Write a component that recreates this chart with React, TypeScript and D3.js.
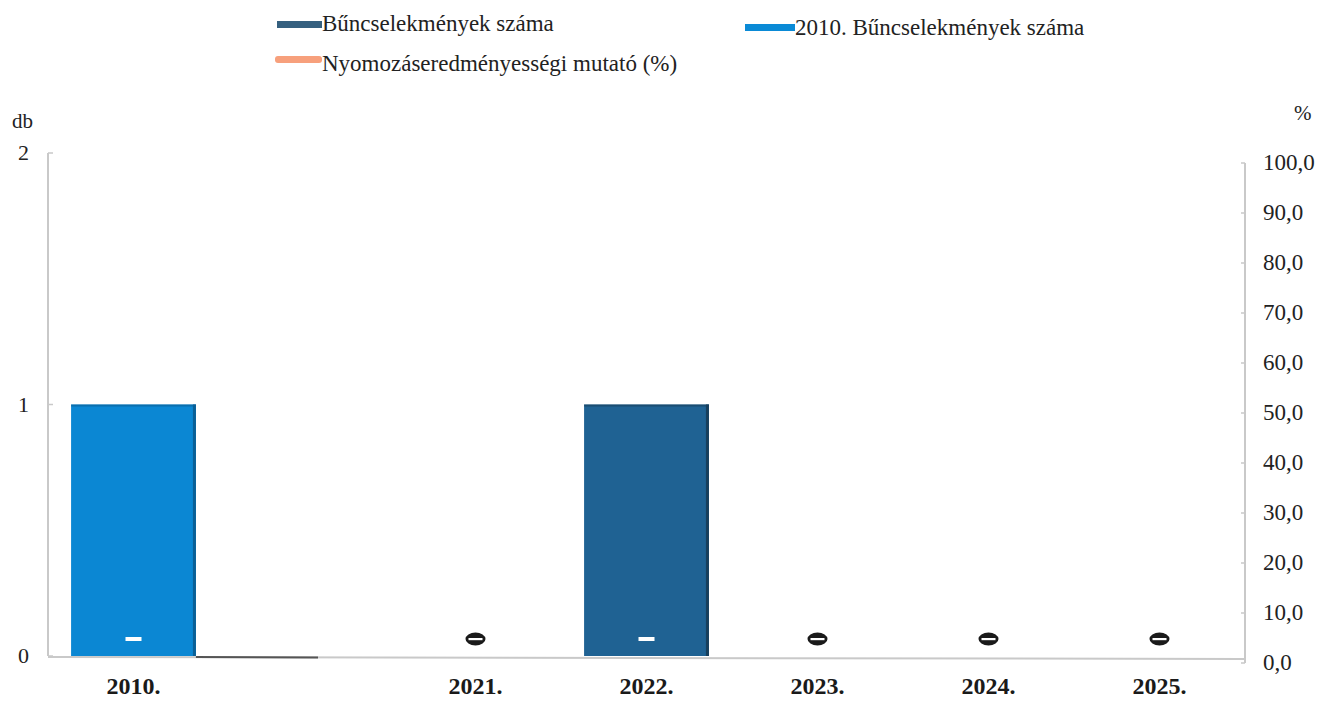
import React from "react";
import * as d3 from "d3";

const categories = ["2010.", "", "2021.", "2022.", "2023.", "2024.", "2025."];
const buncselekmenyek: (number | null)[] = [null, 0, 0, 1, 0, 0, 0];
const buncselekmenyek2010: (number | null)[] = [1, null, null, null, null, null, null];
const mutatoLabels: (string | null)[] = ["-", null, "-", "-", "-", "-", "-"];
const leftTicks = [0, 1, 2];
const rightTicks = [0, 10, 20, 30, 40, 50, 60, 70, 80, 90, 100];

const W = 1331;
const H = 704;
const FONT = "Liberation Serif, DejaVu Serif, serif";

export default function App() {
  const x = d3.scaleBand<string>()
    .domain(categories.map((c, i) => String(i)))
    .range([48, 1245])
    .paddingInner(0.27)
    .paddingOuter(0.135);
  const bw = x.bandwidth();
  const cx = (i: number) => (x(String(i)) as number) + bw / 2;
  const yL = d3.scaleLinear().domain([0, 2]).range([656, 153]);
  const yR = d3.scaleLinear().domain([0, 100]).range([663, 163]);
  const fmt = (v: number) => d3.format(".1f")(v).replace(".", ",");

  const bars: { i: number; v: number; color: string; edge: string }[] = [];
  buncselekmenyek2010.forEach((v, i) => {
    if (v != null && v > 0) bars.push({ i, v, color: "#0b87d3", edge: "#0a5f96" });
  });
  buncselekmenyek.forEach((v, i) => {
    if (v != null && v > 0) bars.push({ i, v, color: "#1f6293", edge: "#173f5c" });
  });

  return (
    <svg width={W} height={H} style={{ position: "absolute", left: 0, top: 0, background: "#fff" }} fontFamily={FONT}>
      <rect x={0} y={0} width={W} height={H} fill="#fff" />
      {/* legend */}
      <g fontSize={23} fill="#222">
        <rect x={277} y={21} width={45} height={7} fill="#35607f" />
        <text x={322} y={31}>Bűncselekmények száma</text>
        <rect x={745} y={24} width={50} height={7} fill="#0a8ad6" />
        <text x={795} y={35}>2010. Bűncselekmények száma</text>
        <rect x={275} y={56} width={47} height={7} rx={3} fill="#f7a07c" />
        <text x={322} y={71}>Nyomozáseredményességi mutató (%)</text>
      </g>
      {/* axis titles */}
      <text x={12} y={128} fontSize={21} fill="#222">db</text>
      <text x={1294} y={120} fontSize={21} fill="#222">%</text>
      {/* left axis */}
      <line x1={48} x2={48} y1={yL(2)} y2={yL(0)} stroke="#c9c9c9" strokeWidth={2} />
      {leftTicks.map((t) => (
        <g key={t}>
          <line x1={48} x2={53} y1={yL(t)} y2={yL(t)} stroke="#c9c9c9" strokeWidth={1.5} />
          <text x={29} y={yL(t) + 7} fontSize={22} textAnchor="end" fill="#222">{t}</text>
        </g>
      ))}
      {/* right axis */}
      <line x1={1245} x2={1245} y1={yR(100)} y2={yR(0)} stroke="#c9c9c9" strokeWidth={2} />
      {rightTicks.map((t) => (
        <g key={t}>
          <line x1={1241} x2={1245} y1={yR(t)} y2={yR(t)} stroke="#c9c9c9" strokeWidth={1.5} />
          <text x={1263} y={yR(t) + 7} fontSize={23} fill="#222">{fmt(t)}</text>
        </g>
      ))}
      {/* baseline */}
      <line x1={48} x2={1245} y1={657} y2={659} stroke="#c9c9c9" strokeWidth={2} />
      <line x1={(x("0") as number) + bw} x2={318} y1={657} y2={657.5} stroke="#555" strokeWidth={2} />
      {/* bars */}
      {bars.map((b, k) => {
        const x0 = x(String(b.i)) as number;
        const top = yL(b.v);
        return (
          <g key={k}>
            <rect x={x0} y={top} width={bw} height={yL(0) - top} fill={b.color} />
            <rect x={x0 + bw - 3} y={top} width={3} height={yL(0) - top} fill={b.edge} />
            <rect x={x0} y={top} width={bw} height={2} fill={b.edge} opacity={0.6} />
          </g>
        );
      })}
      {/* percentage data labels */}
      {mutatoLabels.map((l, i) => {
        if (l == null) return null;
        const inBar = (buncselekmenyek2010[i] ?? 0) > 0 || (buncselekmenyek[i] ?? 0) > 0;
        const px = cx(i);
        const py = yR(0) - 24;
        return (
          <g key={i}>
            {inBar ? (
              <rect x={px - 8} y={py - 2} width={16} height={4} fill="#fff" />
            ) : (
              <g>
                <ellipse cx={px} cy={py} rx={10} ry={6.5} fill="#1a1a1a" />
                <rect x={px - 7} y={py - 1} width={14} height={2.2} fill="#fff" />
              </g>
            )}
          </g>
        );
      })}
      {/* x labels */}
      {categories.map((c, i) => (
        <text key={i} x={cx(i)} y={694} fontSize={24} fontWeight="bold" textAnchor="middle" fill="#1a1a1a">{c}</text>
      ))}
    </svg>
  );
}
